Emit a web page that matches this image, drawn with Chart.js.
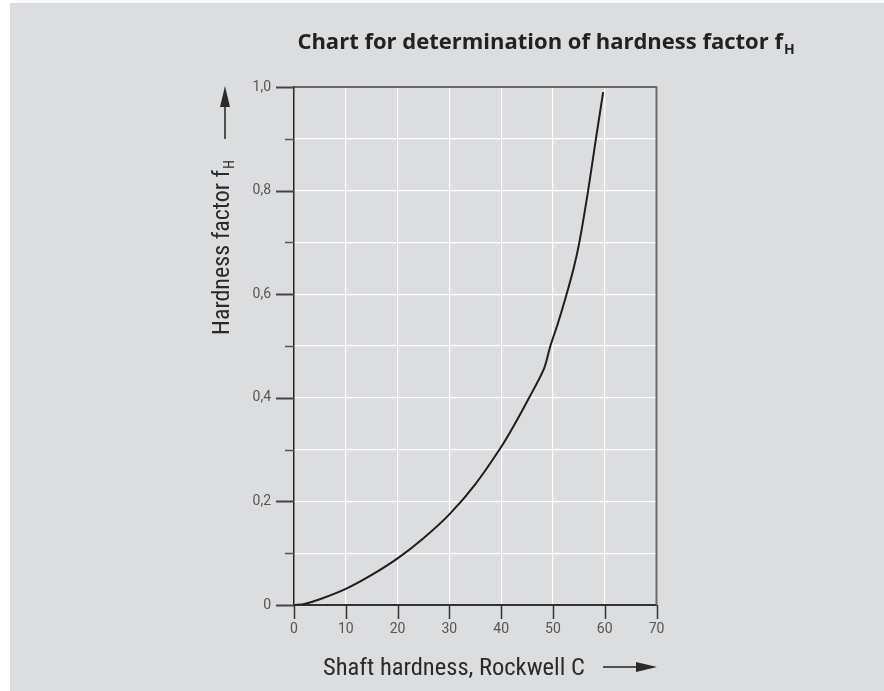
<!DOCTYPE html>
<html>
<head>
<meta charset="utf-8">
<style>
  html, body { margin: 0; padding: 0; background: #ffffff; }
  #wrap { width: 884px; height: 691px; position: relative; }
  canvas { display: block; }
</style>
<script src="https://cdn.jsdelivr.net/npm/chart.js@4/dist/chart.umd.min.js"></script>
</head>
<body>
<div id="wrap"><canvas id="chart" width="884" height="691"></canvas></div>
<script>
// Shaft hardness (Rockwell C) and the corresponding hardness factor f_H
const hardnessHRC    = [0, 2, 5, 10, 15, 20, 25, 30, 35, 40, 42.5, 45.4, 48.3, 49.5, 51, 52.5, 54, 55.1, 56.8, 58.3, 59.7];
const hardnessFactor = [0, 0.002, 0.011, 0.031, 0.058, 0.090, 0.129, 0.175, 0.233, 0.305, 0.347, 0.40, 0.457, 0.50, 0.545, 0.595, 0.65, 0.70, 0.80, 0.90, 0.99];

const xTickLabels = ['0', '10', '20', '30', '40', '50', '60', '70'];
const yTickLabels = ['0', '0,2', '0,4', '0,6', '0,8', '1,0'];

const titleText  = 'Chart for determination of hardness factor f';
const titleSub   = 'H';
const yTitleText = 'Hardness factor f';
const yTitleSub  = 'H';
const xTitleText = 'Shaft hardness, Rockwell C';

const titleFont  = '"Open Sans", "Noto Sans", sans-serif';
const narrowFont = '"Liberation Sans Narrow", "Roboto Condensed", Roboto, sans-serif';
const tickFont   = 'Roboto, "Liberation Sans", sans-serif';

const points = hardnessHRC.map((x, i) => ({ x: x, y: hardnessFactor[i] }));

// page background panel
const panelPlugin = {
  id: 'panel',
  beforeDraw(chart) {
    const ctx = chart.ctx;
    ctx.save();
    ctx.fillStyle = '#ffffff';
    ctx.fillRect(0, 0, chart.width, chart.height);
    ctx.fillStyle = '#dcdddf';
    ctx.fillRect(10, 3, chart.width - 10, chart.height - 3);
    ctx.restore();
  }
};

// frame, major/minor tick marks, axis titles with arrows, chart title
const decorPlugin = {
  id: 'decor',
  afterDraw(chart) {
    const ctx = chart.ctx;
    const a = chart.chartArea;
    const xs = chart.scales.x, ys = chart.scales.y;
    ctx.save();

    // top and right frame lines
    ctx.lineCap = 'butt';
    ctx.strokeStyle = '#3a3a3a';
    ctx.lineWidth = 1.5;
    ctx.beginPath();
    ctx.moveTo(a.left, a.top);
    ctx.lineTo(a.right, a.top);
    ctx.stroke();
    ctx.strokeStyle = '#6a6a6a';
    ctx.lineWidth = 2;
    ctx.beginPath();
    ctx.moveTo(a.right, a.top - 0.75);
    ctx.lineTo(a.right, a.bottom);
    ctx.stroke();

    // y tick marks: long at labelled values, short in between
    for (let i = 0; i <= 10; i++) {
      const py = Math.round(ys.getPixelForValue(i / 10)) + 0.5;
      const major = i % 2 === 0;
      ctx.strokeStyle = major ? '#444444' : '#555555';
      ctx.lineWidth = major ? 2 : 1.5;
      ctx.beginPath();
      ctx.moveTo(a.left - (major ? 18 : 9), py);
      ctx.lineTo(a.left, py);
      ctx.stroke();
    }
    // x tick marks
    for (let i = 0; i < xTickLabels.length; i++) {
      const px = Math.round(xs.getPixelForValue(i * 10)) + 0.5;
      ctx.strokeStyle = '#333333';
      ctx.lineWidth = 1.5;
      ctx.beginPath();
      ctx.moveTo(px, a.bottom);
      ctx.lineTo(px, a.bottom + 14);
      ctx.stroke();
    }

    ctx.fillStyle = '#222222';
    ctx.strokeStyle = '#222222';

    // chart title with subscript
    ctx.textBaseline = 'alphabetic';
    ctx.textAlign = 'left';
    const tFont = 'bold 22px ' + titleFont;
    const sFont = 'bold 14px ' + titleFont;
    ctx.font = tFont;
    const tw = ctx.measureText(titleText).width;
    ctx.font = sFont;
    const sw = ctx.measureText(titleSub).width;
    const tx = 546 - (tw + sw + 1) / 2;
    ctx.font = tFont;
    ctx.fillText(titleText, tx, 49);
    ctx.font = sFont;
    ctx.fillText(titleSub, tx + tw + 1, 54);

    // x axis title and arrow
    ctx.font = '24.5px ' + narrowFont;
    ctx.fillStyle = '#2a2a2a';
    ctx.fillText(xTitleText, 323, 675);
    ctx.lineWidth = 1.5;
    ctx.beginPath();
    ctx.moveTo(603, 667);
    ctx.lineTo(640, 667);
    ctx.stroke();
    ctx.beginPath();
    ctx.moveTo(657, 667);
    ctx.lineTo(636, 662);
    ctx.lineTo(636, 672);
    ctx.closePath();
    ctx.fill();

    // y axis title (rotated) and arrow
    ctx.save();
    ctx.translate(229, 335);
    ctx.rotate(-Math.PI / 2);
    ctx.font = '24px ' + narrowFont;
    ctx.fillText(yTitleText, 0, 0);
    const yw = ctx.measureText(yTitleText).width;
    ctx.font = '14px ' + narrowFont;
    ctx.fillText(yTitleSub, yw + 1, 5);
    ctx.restore();

    ctx.beginPath();
    ctx.moveTo(225, 139);
    ctx.lineTo(225, 104);
    ctx.stroke();
    ctx.beginPath();
    ctx.moveTo(225, 86);
    ctx.lineTo(220, 107);
    ctx.lineTo(230, 107);
    ctx.closePath();
    ctx.fill();

    ctx.restore();
  }
};

new Chart(document.getElementById('chart'), {
  type: 'scatter',
  data: {
    datasets: [{
      data: points,
      showLine: true,
      borderColor: '#1e1e1e',
      borderWidth: 2,
      pointRadius: 0,
      tension: 0.3,
      fill: false
    }]
  },
  options: {
    responsive: false,
    animation: false,
    devicePixelRatio: 1,
    layout: { padding: { left: 234, right: 227.5, top: 87, bottom: 26 } },
    plugins: {
      legend: { display: false },
      title: { display: false },
      tooltip: { enabled: false }
    },
    scales: {
      x: {
        type: 'linear',
        min: 0,
        max: 70,
        afterFit(scale) { scale.height = 60; },
        ticks: {
          stepSize: 10,
          padding: 16,
          color: '#555555',
          font: { family: tickFont, size: 14 },
          callback: (v, i) => xTickLabels[i]
        },
        grid: { color: '#ffffff', lineWidth: 1.2, drawTicks: false },
        border: { display: true, color: '#333333', width: 2 }
      },
      y: {
        type: 'linear',
        min: 0,
        max: 1,
        afterFit(scale) { scale.width = 60; },
        ticks: {
          stepSize: 0.1,
          padding: 23,
          color: '#555555',
          font: { family: tickFont, size: 14 },
          callback: (v, i) => (i % 2 === 0 ? yTickLabels[i / 2] : '')
        },
        grid: { color: '#ffffff', lineWidth: 1.2, drawTicks: false },
        border: { display: true, color: '#222222', width: 1.5 }
      }
    }
  },
  plugins: [panelPlugin, decorPlugin]
});
</script>
</body>
</html>
